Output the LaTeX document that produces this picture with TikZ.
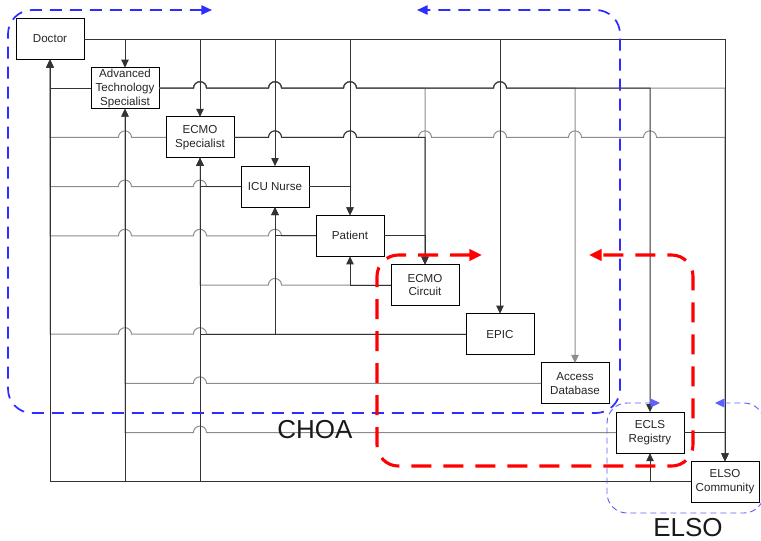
\documentclass[tikz,border=0pt]{standalone}
\usepackage{fontspec}
\setmainfont{Liberation Sans}
\usepackage{xcolor}
\usepackage{tikz}
\usetikzlibrary{arrows.meta, positioning, calc}

\definecolor{zoneblue}{RGB}{45,45,255}
\definecolor{lightzoneblue}{RGB}{95,95,255}
\definecolor{linegrey}{RGB}{140,140,140}

% line jumps over a vertical run
\newcommand{\jumpright}[2]{-- ($(#1 -| #2)+(-6.5,0)$) arc[start angle=180, end angle=0, radius=4.9pt]}
\newcommand{\jumpleft}[2]{-- ($(#1 -| #2)+(6.5,0)$) arc[start angle=0, end angle=180, radius=4.9pt]}

\begin{document}
\begin{tikzpicture}[
	x=0.75pt, y=-0.75pt,
	node distance=6.15pt and 5.25pt,
	box/.style={draw, rectangle, minimum width=51pt, minimum height=30.75pt, inner sep=0pt, outer sep=0pt, align=center, fill=white, line width=0.7pt, text=black!85, font=\fontsize{8.7}{10.4}\selectfont},
	arrow/.style={-{Triangle[length=6pt, width=5.5pt]}, line width=0.75pt, black!80},
	greyarrow/.style={-{Triangle[length=6pt, width=5.5pt]}, line width=0.75pt, linegrey},
	choazone/.style={<->, >={Triangle[length=8pt, width=7pt]}, zoneblue, line width=1.3pt, dash pattern=on 9pt off 6pt, rounded corners=18pt},
	ecmozone/.style={<->, >={Triangle[length=9.5pt, width=8.5pt]}, red, line width=2.3pt, dash pattern=on 15pt off 9pt, rounded corners=16pt},
	elsozone/.style={<->, >={Triangle[length=7pt, width=6.5pt]}, lightzoneblue, line width=0.7pt, dash pattern=on 4.5pt off 3pt, rounded corners=15pt},
	zonelabel/.style={anchor=base, inner sep=0pt, text=black!90, font=\fontsize{19.5}{20}\selectfont}
]
	\useasboundingbox (0,0) rectangle (761,540);

	% boxes along the diagonal
	\node (doctor) [box] at (50,39) {Doctor};
	\node (ats) [box, below right=of doctor] {Advanced\\Technology\\Specialist};
	\node (ecmospec) [box, below right=of ats] {ECMO\\Specialist};
	\node (nurse) [box, below right=of ecmospec] {ICU Nurse};
	\node (patient) [box, below right=of nurse] {Patient};
	\node (circuit) [box, below right=of patient] {ECMO\\Circuit};
	\node (epic) [box, below right=of circuit] {EPIC};
	\node (access) [box, below right=of epic] {Access\\Database};
	\node (ecls) [box, below right=of access] {ECLS\\Registry};
	\node (elso) [box, below right=of ecls] {ELSO\\Community};

	% grey links first, black ones run over them
	\draw [greyarrow] (ats.east) \jumpright{ats.east}{ecmospec} \jumpright{ats.east}{nurse} \jumpright{ats.east}{patient} -| (circuit.north);
	\draw [greyarrow] (ats.east) \jumpright{ats.east}{ecmospec} \jumpright{ats.east}{nurse} \jumpright{ats.east}{patient} \jumpright{ats.east}{epic} -| (access.north);
	\draw [greyarrow] (ats.east) \jumpright{ats.east}{ecmospec} \jumpright{ats.east}{nurse} \jumpright{ats.east}{patient} \jumpright{ats.east}{epic} -| (elso.north);
	\draw [greyarrow] (ecmospec.east) \jumpright{ecmospec.east}{nurse} \jumpright{ecmospec.east}{patient} \jumpright{ecmospec.east}{circuit} \jumpright{ecmospec.east}{epic} \jumpright{ecmospec.east}{access} \jumpright{ecmospec.east}{ecls} -| (elso.north);
	\draw [greyarrow] (ecmospec.west) \jumpleft{ecmospec.west}{ats} -| (doctor.south);
	\draw [greyarrow] (nurse.west) \jumpleft{nurse.west}{ecmospec} \jumpleft{nurse.west}{ats} -| (doctor.south);
	\draw [greyarrow] (patient.west) \jumpleft{patient.west}{nurse} \jumpleft{patient.west}{ecmospec} \jumpleft{patient.west}{ats} -| (doctor.south);
	\draw [greyarrow] (circuit.west) \jumpleft{circuit.west}{nurse} -| (ecmospec.south);
	\draw [greyarrow] (epic.west) \jumpleft{epic.west}{ecmospec} \jumpleft{epic.west}{ats} -| (doctor.south);
	\draw [greyarrow] (access.west) \jumpleft{access.west}{ecmospec} -| (ats.south);
	\draw [greyarrow] (ecls.west) \jumpleft{ecls.west}{ecmospec} -| (ats.south);

	\draw [arrow] (doctor.east) -| (ats.north);
	\draw [arrow] (doctor.east) -| (ecmospec.north);
	\draw [arrow] (doctor.east) -| (nurse.north);
	\draw [arrow] (doctor.east) -| (patient.north);
	\draw [arrow] (doctor.east) -| (epic.north);
	\draw [arrow] (doctor.east) -| (elso.north);
	\draw [arrow] (ats.east) \jumpright{ats.east}{ecmospec} \jumpright{ats.east}{nurse} \jumpright{ats.east}{patient} \jumpright{ats.east}{epic} -| (ecls.north);
	\draw [arrow] (ats.west) -| (doctor.south);
	\draw [arrow] (ecmospec.east) \jumpright{ecmospec.east}{nurse} \jumpright{ecmospec.east}{patient} -| (circuit.north);
	\draw [arrow] (nurse.east) -| (patient.north);
	\draw [arrow] (nurse.west) -| (ecmospec.south);
	\draw [arrow] (patient.east) -| (circuit.north);
	\draw [arrow] (patient.west) -| (nurse.south);
	\draw [arrow] (circuit.west) -| (patient.south);
	\draw [arrow] (epic.west) -| (nurse.south);
	\draw [arrow] (epic.west) -| (ecmospec.south);
	\draw [arrow] (ecls.east) -| (elso.north);
	\draw [arrow] (elso.west) -| (ecls.south);
	\draw [arrow] (elso.west) -| (ecmospec.south);
	\draw [arrow] (elso.west) -| (ats.south);
	\draw [arrow] (elso.west) -| (doctor.south);

	% zones
	\draw [choazone] (212,10) -- (8,10) -- (8,413) -- (620,413) -- (620,10) -- (417,10);
	\draw [ecmozone] (482,255) -- (377,255) -- (377,466) -- (693,466) -- (693,255) -- (589,255);
	\draw [elsozone] (660,403) -- (607,403) -- (607,513) -- (764,513) -- (764,403) -- (715,403);
	\node (choa) [zonelabel] at (315,438) {CHOA};
	\node (elsoname) [zonelabel] at (688,536) {ELSO};

\end{tikzpicture}
\end{document}
